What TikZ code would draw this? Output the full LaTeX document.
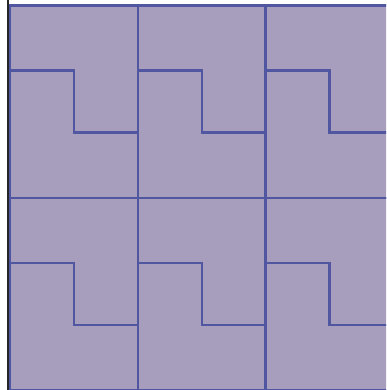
\documentclass[tikz,border=0pt]{standalone}
\usepackage{tikz}
\usetikzlibrary{calc}
\definecolor{tilefill}{RGB}{167,158,190}
\definecolor{tileline}{RGB}{80,86,160}

\begin{document}
\begin{tikzpicture}[x=1pt,y=-1pt,
    tile/.style={draw=tileline,line width=2.4pt},
    seam/.style={draw=tileline,line width=2.4pt,line join=miter}
  ]
    \useasboundingbox (0,0) rectangle (386,390);
    \clip (0,0) rectangle (386,390);
    \fill[tilefill] (9,4) rectangle (390,394);
    \draw[black!85,line width=2pt] (8,0) -- (8,390);
    \foreach \col in {0,1,2}{
      \foreach \row in {0,1}{
        \coordinate (c) at (10+127.7*\col,5.7+192*\row);
        \draw[tile] (c) rectangle ++(127.7,192);
        \draw[seam] ($(c)+(0,65)$) -- ++(64,0) -- ++(0,62) -- ++(63.7,0);
      }
    }
  \end{tikzpicture}
\end{document}
